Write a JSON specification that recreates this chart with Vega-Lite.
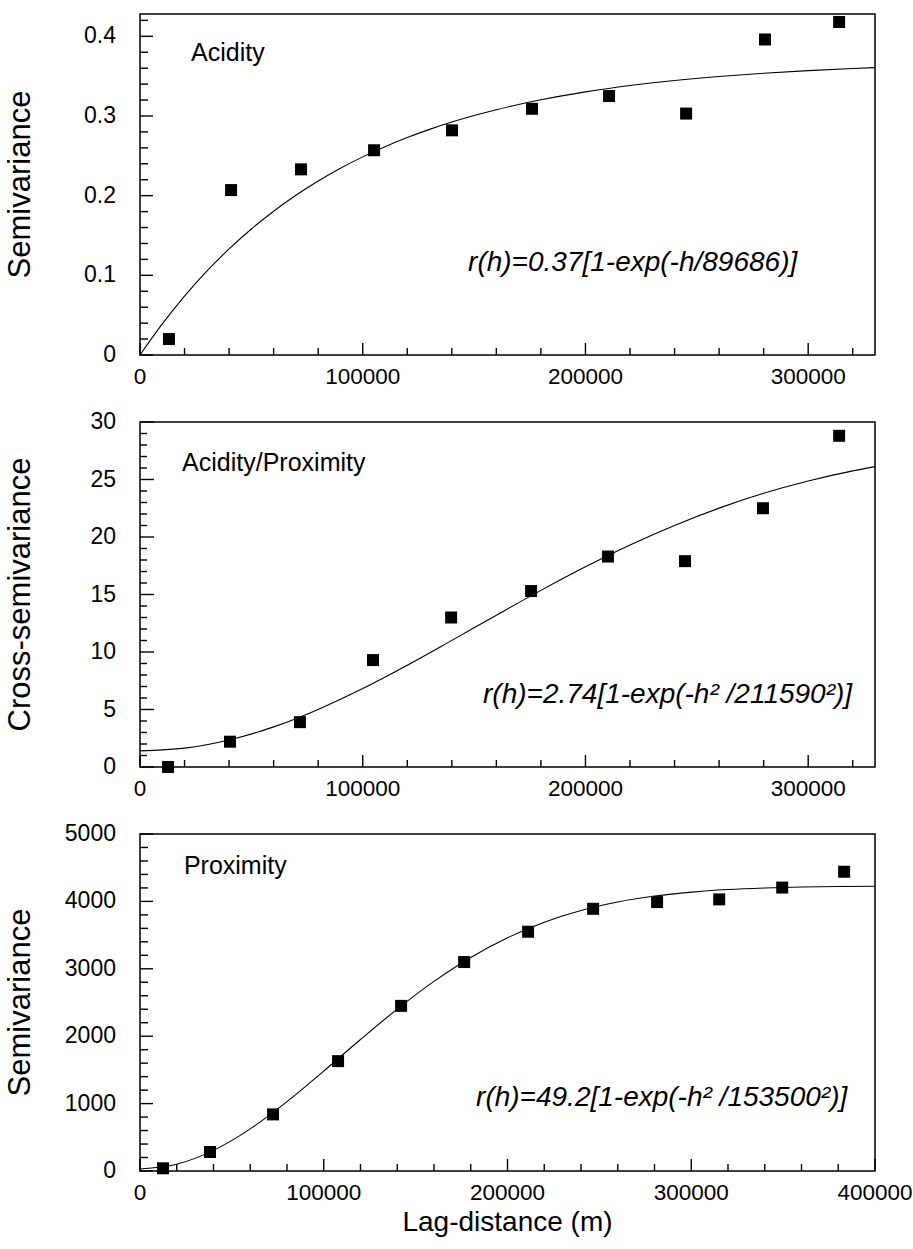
{
  "$schema": "https://vega.github.io/schema/vega-lite/v6.json",
  "background": "white",
  "padding": {"left": 4, "top": 13, "right": 0, "bottom": 2},
  "bounds": "flush",
  "spacing": 67,
  "config": {
    "view": {"stroke": "black", "strokeWidth": 1.5},
    "font": "Liberation Sans",
    "tick": {"opacity": 1, "color": "black", "thickness": 1.4},
    "text": {"font": "Liberation Sans", "color": "black"}
  },
  "datasets": {
    "acid_pts": [{"h":13000,"g":0.020},{"h":40900,"g":0.207},{"h":72300,"g":0.233},{"h":105100,"g":0.257},{"h":140100,"g":0.282},{"h":176000,"g":0.309},{"h":210600,"g":0.325},{"h":245200,"g":0.303},{"h":280600,"g":0.396},{"h":313900,"g":0.418}],
    "acid_fit": [{"h":0,"g":0},{"h":10000,"g":0.03904},{"h":20000,"g":0.07396},{"h":30000,"g":0.10519},{"h":40000,"g":0.13313},{"h":50000,"g":0.15812},{"h":60000,"g":0.18047},{"h":70000,"g":0.20047},{"h":80000,"g":0.21836},{"h":90000,"g":0.23436},{"h":100000,"g":0.24867},{"h":110000,"g":0.26148},{"h":120000,"g":0.27293},{"h":130000,"g":0.28317},{"h":140000,"g":0.29233},{"h":150000,"g":0.30053},{"h":160000,"g":0.30785},{"h":170000,"g":0.31441},{"h":180000,"g":0.32028},{"h":190000,"g":0.32552},{"h":200000,"g":0.33021},{"h":220000,"g":0.33817},{"h":240000,"g":0.34453},{"h":260000,"g":0.34962},{"h":280000,"g":0.35369},{"h":300000,"g":0.35695},{"h":320000,"g":0.35956},{"h":330000,"g":0.36066}],
    "cross_pts": [{"h":12600,"g":0.0},{"h":40400,"g":2.2},{"h":71800,"g":3.9},{"h":104600,"g":9.3},{"h":139700,"g":13.0},{"h":175600,"g":15.3},{"h":210100,"g":18.3},{"h":244700,"g":17.9},{"h":279700,"g":22.5},{"h":313900,"g":28.8}],
    "cross_fit": [{"h":0,"g":1.4},{"h":20000,"g":1.64},{"h":40000,"g":2.35},{"h":60000,"g":3.49},{"h":80000,"g":5.01},{"h":100000,"g":6.82},{"h":120000,"g":8.85},{"h":140000,"g":11.01},{"h":160000,"g":13.2},{"h":180000,"g":15.36},{"h":200000,"g":17.41},{"h":220000,"g":19.31},{"h":240000,"g":21.01},{"h":260000,"g":22.51},{"h":280000,"g":23.8},{"h":300000,"g":24.87},{"h":320000,"g":25.75},{"h":330000,"g":26.12}],
    "prox_pts": [{"h":12500,"g":40},{"h":38100,"g":282},{"h":72400,"g":840},{"h":107800,"g":1630},{"h":142100,"g":2450},{"h":176400,"g":3100},{"h":211200,"g":3550},{"h":246600,"g":3890},{"h":281400,"g":3990},{"h":315200,"g":4030},{"h":349500,"g":4205},{"h":383200,"g":4440}],
    "prox_fit": [{"h":0,"g":30},{"h":20000,"g":101},{"h":40000,"g":306},{"h":60000,"g":625},{"h":80000,"g":1029},{"h":100000,"g":1483},{"h":120000,"g":1951},{"h":140000,"g":2402},{"h":160000,"g":2813},{"h":180000,"g":3168},{"h":200000,"g":3461},{"h":220000,"g":3692},{"h":240000,"g":3866},{"h":260000,"g":3992},{"h":280000,"g":4079},{"h":300000,"g":4138},{"h":320000,"g":4176},{"h":340000,"g":4199},{"h":360000,"g":4213},{"h":380000,"g":4221},{"h":400000,"g":4225}],
    "x330_major": [{"v":0},{"v":100000},{"v":200000},{"v":300000}],
    "x330_minor": [{"v":20000},{"v":40000},{"v":60000},{"v":80000},{"v":120000},{"v":140000},{"v":160000},{"v":180000},{"v":220000},{"v":240000},{"v":260000},{"v":280000},{"v":320000}],
    "x400_major": [{"v":0},{"v":100000},{"v":200000},{"v":300000},{"v":400000}],
    "x400_minor": [{"v":20000},{"v":40000},{"v":60000},{"v":80000},{"v":120000},{"v":140000},{"v":160000},{"v":180000},{"v":220000},{"v":240000},{"v":260000},{"v":280000},{"v":320000},{"v":340000},{"v":360000},{"v":380000}],
    "y1_major": [{"v":0},{"v":0.1},{"v":0.2},{"v":0.3},{"v":0.4}],
    "y1_minor": [{"v":0.02},{"v":0.04},{"v":0.06},{"v":0.08},{"v":0.12},{"v":0.14},{"v":0.16},{"v":0.18},{"v":0.22},{"v":0.24},{"v":0.26},{"v":0.28},{"v":0.32},{"v":0.34},{"v":0.36},{"v":0.38},{"v":0.42}],
    "y2_major": [{"v":0},{"v":5},{"v":10},{"v":15},{"v":20},{"v":25},{"v":30}],
    "y2_minor": [{"v":1},{"v":2},{"v":3},{"v":4},{"v":6},{"v":7},{"v":8},{"v":9},{"v":11},{"v":12},{"v":13},{"v":14},{"v":16},{"v":17},{"v":18},{"v":19},{"v":21},{"v":22},{"v":23},{"v":24},{"v":26},{"v":27},{"v":28},{"v":29}],
    "y3_major": [{"v":0},{"v":1000},{"v":2000},{"v":3000},{"v":4000},{"v":5000}],
    "y3_minor": [{"v":200},{"v":400},{"v":600},{"v":800},{"v":1200},{"v":1400},{"v":1600},{"v":1800},{"v":2200},{"v":2400},{"v":2600},{"v":2800},{"v":3200},{"v":3400},{"v":3600},{"v":3800},{"v":4200},{"v":4400},{"v":4600},{"v":4800}]
  },
  "vconcat": [
    {
      "width": 735, "height": 341,
      "layer": [
        {
          "data": {"name": "acid_fit"},
          "mark": {"type": "line", "color": "black", "strokeWidth": 1.1, "interpolate": "monotone"},
          "encoding": {
            "x": {"field": "h", "type": "quantitative", "scale": {"domain": [0, 330000], "nice": false, "zero": false}, "axis": null},
            "y": {"field": "g", "type": "quantitative", "scale": {"domain": [0, 0.428], "nice": false, "zero": false}, "axis": null}
          }
        },
        {
          "data": {"name": "acid_pts"},
          "mark": {"type": "point", "shape": "square", "filled": true, "size": 144, "color": "black", "opacity": 1},
          "encoding": {"x": {"field": "h", "type": "quantitative", "axis": null}, "y": {"field": "g", "type": "quantitative", "axis": null}}
        },
        {
          "data": {"name": "x330_major"},
          "mark": {"type": "tick", "orient": "vertical", "size": 12, "yOffset": -6},
          "encoding": {"x": {"field": "v", "type": "quantitative", "axis": null}, "y": {"datum": 0, "type": "quantitative", "axis": null}}
        },
        {
          "data": {"name": "x330_major"},
          "mark": {"type": "text", "align": "center", "baseline": "top", "fontSize": 22.5, "yOffset": 11},
          "encoding": {"x": {"field": "v", "type": "quantitative", "axis": null}, "y": {"datum": 0, "type": "quantitative", "axis": null}, "text": {"field": "v", "type": "quantitative", "format": "d"}}
        },
        {
          "data": {"name": "x330_minor"},
          "mark": {"type": "tick", "orient": "vertical", "size": 7, "yOffset": -3.5},
          "encoding": {"x": {"field": "v", "type": "quantitative", "axis": null}, "y": {"datum": 0, "type": "quantitative", "axis": null}}
        },
        {
          "data": {"name": "y1_major"},
          "mark": {"type": "tick", "orient": "horizontal", "size": 13, "xOffset": 6.5},
          "encoding": {"y": {"field": "v", "type": "quantitative", "axis": null}, "x": {"datum": 0, "type": "quantitative", "axis": null}}
        },
        {
          "data": {"name": "y1_major"},
          "mark": {"type": "text", "align": "right", "baseline": "middle", "fontSize": 23, "xOffset": -24},
          "encoding": {"y": {"field": "v", "type": "quantitative", "axis": null}, "x": {"datum": 0, "type": "quantitative", "axis": null}, "text": {"field": "v", "type": "quantitative", "format": "~g"}}
        },
        {
          "data": {"name": "y1_minor"},
          "mark": {"type": "tick", "orient": "horizontal", "size": 8, "xOffset": 4},
          "encoding": {"y": {"field": "v", "type": "quantitative", "axis": null}, "x": {"datum": 0, "type": "quantitative", "axis": null}}
        },
        {
          "data": {"values": [{"t": "Semivariance"}]},
          "mark": {"type": "text", "align": "center", "baseline": "alphabetic", "angle": 270, "fontSize": 31, "xOffset": -110},
          "encoding": {"x": {"datum": 0, "type": "quantitative", "axis": null}, "y": {"datum": 0.214, "type": "quantitative", "axis": null}, "text": {"field": "t"}}
        },
        {
          "data": {"values": [{"t": "Acidity"}]},
          "mark": {"type": "text", "align": "left", "baseline": "middle", "fontSize": 25},
          "encoding": {"x": {"datum": 22900, "type": "quantitative", "axis": null}, "y": {"datum": 0.379, "type": "quantitative", "axis": null}, "text": {"field": "t"}}
        },
        {
          "data": {"values": [{"t": "r(h)=0.37[1-exp(-h/89686)]"}]},
          "mark": {"type": "text", "align": "left", "baseline": "middle", "fontSize": 28, "fontStyle": "italic"},
          "encoding": {"x": {"datum": 147300, "type": "quantitative", "axis": null}, "y": {"datum": 0.115, "type": "quantitative", "axis": null}, "text": {"field": "t"}}
        }
      ]
    },
    {
      "width": 735, "height": 345,
      "layer": [
        {
          "data": {"name": "cross_fit"},
          "mark": {"type": "line", "color": "black", "strokeWidth": 1.1, "interpolate": "monotone"},
          "encoding": {
            "x": {"field": "h", "type": "quantitative", "scale": {"domain": [0, 330000], "nice": false, "zero": false}, "axis": null},
            "y": {"field": "g", "type": "quantitative", "scale": {"domain": [0, 30], "nice": false, "zero": false}, "axis": null}
          }
        },
        {
          "data": {"name": "cross_pts"},
          "mark": {"type": "point", "shape": "square", "filled": true, "size": 144, "color": "black", "opacity": 1},
          "encoding": {"x": {"field": "h", "type": "quantitative", "axis": null}, "y": {"field": "g", "type": "quantitative", "axis": null}}
        },
        {
          "data": {"name": "x330_major"},
          "mark": {"type": "tick", "orient": "vertical", "size": 12, "yOffset": -6},
          "encoding": {"x": {"field": "v", "type": "quantitative", "axis": null}, "y": {"datum": 0, "type": "quantitative", "axis": null}}
        },
        {
          "data": {"name": "x330_major"},
          "mark": {"type": "text", "align": "center", "baseline": "top", "fontSize": 22.5, "yOffset": 11},
          "encoding": {"x": {"field": "v", "type": "quantitative", "axis": null}, "y": {"datum": 0, "type": "quantitative", "axis": null}, "text": {"field": "v", "type": "quantitative", "format": "d"}}
        },
        {
          "data": {"name": "x330_minor"},
          "mark": {"type": "tick", "orient": "vertical", "size": 7, "yOffset": -3.5},
          "encoding": {"x": {"field": "v", "type": "quantitative", "axis": null}, "y": {"datum": 0, "type": "quantitative", "axis": null}}
        },
        {
          "data": {"name": "y2_major"},
          "mark": {"type": "tick", "orient": "horizontal", "size": 14, "xOffset": 7},
          "encoding": {"y": {"field": "v", "type": "quantitative", "axis": null}, "x": {"datum": 0, "type": "quantitative", "axis": null}}
        },
        {
          "data": {"name": "y2_major"},
          "mark": {"type": "text", "align": "right", "baseline": "middle", "fontSize": 23, "xOffset": -24},
          "encoding": {"y": {"field": "v", "type": "quantitative", "axis": null}, "x": {"datum": 0, "type": "quantitative", "axis": null}, "text": {"field": "v", "type": "quantitative", "format": "d"}}
        },
        {
          "data": {"name": "y2_minor"},
          "mark": {"type": "tick", "orient": "horizontal", "size": 7, "xOffset": 3.5},
          "encoding": {"y": {"field": "v", "type": "quantitative", "axis": null}, "x": {"datum": 0, "type": "quantitative", "axis": null}}
        },
        {
          "data": {"values": [{"t": "Cross-semivariance"}]},
          "mark": {"type": "text", "align": "center", "baseline": "alphabetic", "angle": 270, "fontSize": 31, "xOffset": -110},
          "encoding": {"x": {"datum": 0, "type": "quantitative", "axis": null}, "y": {"datum": 15, "type": "quantitative", "axis": null}, "text": {"field": "t"}}
        },
        {
          "data": {"values": [{"t": "Acidity/Proximity"}]},
          "mark": {"type": "text", "align": "left", "baseline": "middle", "fontSize": 25},
          "encoding": {"x": {"datum": 18900, "type": "quantitative", "axis": null}, "y": {"datum": 26.4, "type": "quantitative", "axis": null}, "text": {"field": "t"}}
        },
        {
          "data": {"values": [{"t": "r(h)=2.74[1-exp(-h² /211590²)]"}]},
          "mark": {"type": "text", "align": "left", "baseline": "middle", "fontSize": 28, "fontStyle": "italic"},
          "encoding": {"x": {"datum": 154000, "type": "quantitative", "axis": null}, "y": {"datum": 6.3, "type": "quantitative", "axis": null}, "text": {"field": "t"}}
        }
      ]
    },
    {
      "width": 735, "height": 337,
      "layer": [
        {
          "data": {"name": "prox_fit"},
          "mark": {"type": "line", "color": "black", "strokeWidth": 1.1, "interpolate": "monotone"},
          "encoding": {
            "x": {"field": "h", "type": "quantitative", "scale": {"domain": [0, 400000], "nice": false, "zero": false}, "axis": null},
            "y": {"field": "g", "type": "quantitative", "scale": {"domain": [0, 5000], "nice": false, "zero": false}, "axis": null}
          }
        },
        {
          "data": {"name": "prox_pts"},
          "mark": {"type": "point", "shape": "square", "filled": true, "size": 144, "color": "black", "opacity": 1},
          "encoding": {"x": {"field": "h", "type": "quantitative", "axis": null}, "y": {"field": "g", "type": "quantitative", "axis": null}}
        },
        {
          "data": {"name": "x400_major"},
          "mark": {"type": "tick", "orient": "vertical", "size": 12, "yOffset": -6},
          "encoding": {"x": {"field": "v", "type": "quantitative", "axis": null}, "y": {"datum": 0, "type": "quantitative", "axis": null}}
        },
        {
          "data": {"name": "x400_major"},
          "mark": {"type": "text", "align": "center", "baseline": "top", "fontSize": 22.5, "yOffset": 11},
          "encoding": {"x": {"field": "v", "type": "quantitative", "axis": null}, "y": {"datum": 0, "type": "quantitative", "axis": null}, "text": {"field": "v", "type": "quantitative", "format": "d"}}
        },
        {
          "data": {"name": "x400_minor"},
          "mark": {"type": "tick", "orient": "vertical", "size": 7, "yOffset": -3.5},
          "encoding": {"x": {"field": "v", "type": "quantitative", "axis": null}, "y": {"datum": 0, "type": "quantitative", "axis": null}}
        },
        {
          "data": {"name": "y3_major"},
          "mark": {"type": "tick", "orient": "horizontal", "size": 13, "xOffset": 6.5},
          "encoding": {"y": {"field": "v", "type": "quantitative", "axis": null}, "x": {"datum": 0, "type": "quantitative", "axis": null}}
        },
        {
          "data": {"name": "y3_major"},
          "mark": {"type": "text", "align": "right", "baseline": "middle", "fontSize": 23, "xOffset": -24},
          "encoding": {"y": {"field": "v", "type": "quantitative", "axis": null}, "x": {"datum": 0, "type": "quantitative", "axis": null}, "text": {"field": "v", "type": "quantitative", "format": "d"}}
        },
        {
          "data": {"name": "y3_minor"},
          "mark": {"type": "tick", "orient": "horizontal", "size": 8, "xOffset": 4},
          "encoding": {"y": {"field": "v", "type": "quantitative", "axis": null}, "x": {"datum": 0, "type": "quantitative", "axis": null}}
        },
        {
          "data": {"values": [{"t": "Semivariance"}]},
          "mark": {"type": "text", "align": "center", "baseline": "alphabetic", "angle": 270, "fontSize": 31, "xOffset": -110},
          "encoding": {"x": {"datum": 0, "type": "quantitative", "axis": null}, "y": {"datum": 2500, "type": "quantitative", "axis": null}, "text": {"field": "t"}}
        },
        {
          "data": {"values": [{"t": "Lag-distance (m)"}]},
          "mark": {"type": "text", "align": "center", "baseline": "alphabetic", "fontSize": 28, "yOffset": 60},
          "encoding": {"x": {"datum": 200000, "type": "quantitative", "axis": null}, "y": {"datum": 0, "type": "quantitative", "axis": null}, "text": {"field": "t"}}
        },
        {
          "data": {"values": [{"t": "Proximity"}]},
          "mark": {"type": "text", "align": "left", "baseline": "middle", "fontSize": 25},
          "encoding": {"x": {"datum": 23900, "type": "quantitative", "axis": null}, "y": {"datum": 4520, "type": "quantitative", "axis": null}, "text": {"field": "t"}}
        },
        {
          "data": {"values": [{"t": "r(h)=49.2[1-exp(-h² /153500²)]"}]},
          "mark": {"type": "text", "align": "left", "baseline": "middle", "fontSize": 28, "fontStyle": "italic"},
          "encoding": {"x": {"datum": 182900, "type": "quantitative", "axis": null}, "y": {"datum": 1085, "type": "quantitative", "axis": null}, "text": {"field": "t"}}
        }
      ]
    }
  ]
}
